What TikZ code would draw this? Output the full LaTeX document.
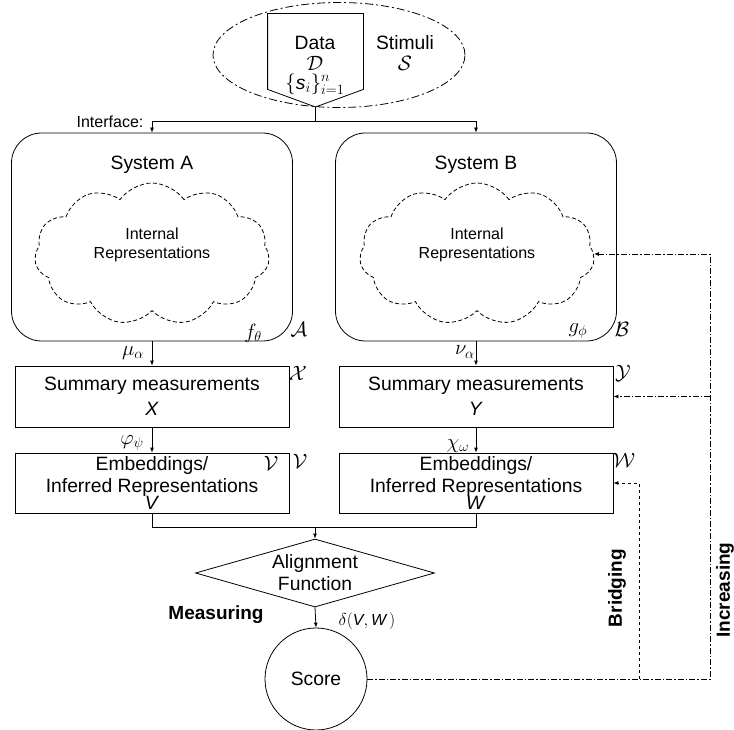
\documentclass[tikz,border=0pt]{standalone}
\usepackage{fontspec}
\setmainfont{Liberation Sans}
\usetikzlibrary{shapes.geometric,shapes.symbols,arrows.meta}

\begin{document}
\begin{tikzpicture}
  [x=1pt,y=-1pt,line width=0.8pt,
   font=\fontsize{19.3}{22}\selectfont,
   box/.style={draw,rectangle,minimum width=274pt,minimum height=61pt,align=center,inner sep=0pt},
   sysbox/.style={draw,rectangle,rounded corners=30pt,minimum width=281pt,minimum height=208pt},
   cloudy/.style={draw,dash pattern=on 4pt off 2.5pt,cloud,cloud puffs=11,cloud puff arc=110,aspect=1.65,minimum width=235pt,minimum height=142pt},
   lab/.style={font=\fontsize{16}{19}\selectfont},
   heavy/.style={font=\fontsize{19}{22}\selectfont\bfseries},
   arr/.style={-{Latex[length=5pt,width=4pt]}},
   dashdot/.style={dash pattern=on 6pt off 2pt on 1.5pt off 2pt}]
  \useasboundingbox (0,0) rectangle (734,730);

  % stimuli
  \node[draw,ellipse,dash pattern=on 8pt off 3pt on 2pt off 3pt,minimum width=252pt,minimum height=105pt] (stim) at (339,55) {};
  \node[minimum width=95pt,minimum height=75pt,inner sep=0pt] (data) at (315.5,51.5) {};
  \coordinate (datatip) at (315.5,107);
  \draw[fill=white] (data.north west) -- (data.north east) -- (data.south east) -- (datatip) -- (data.south west) -- cycle;
  \node (datatxt) at (315,43) {Data};
  \node (dcal) at (315,63) {$\mathcal{D}$};
  \node (sset) at (315,84) {$\{\mbox{\itshape s}_i\}_{i=1}^{n}$};
  \node (stimtxt) at (405,43) {Stimuli};
  \node (scal) at (405,63) {$\mathcal{S}$};

  % systems
  \node[sysbox] (sysA) at (152,237) {};
  \node[sysbox] (sysB) at (476,237) {};
  \node (sysAtxt) at (152,165) {System A};
  \node (sysBtxt) at (476,165) {System B};
  \node[cloudy] (cloudA) at (152,254) {};
  \node[cloudy] (cloudB) at (477,254) {};
  \node[lab,align=center] (intA) at (152,245) {Internal\\Representations};
  \node[lab,align=center] (intB) at (477,245) {Internal\\Representations};
  \node (fA) at (253,333) {$f_{\theta}$};
  \node (calA) at (299,329) {$\mathcal{A}$};
  \node (gB) at (578,331) {$g_{\phi}$};
  \node (calB) at (622,329) {$\mathcal{B}$};

  \node[lab] (iface) at (110,122) {Interface:};
  \coordinate (split) at (315.5,121);
  \draw (datatip) -- (split);
  \draw[arr] (split) -| (sysA.north);
  \draw[arr] (split) -| (sysB.north);

  % measurements
  \node[box] (sumA) at (152,396.5) {Summary measurements\\[3pt]\textit{X}};
  \node[box] (sumB) at (476,396.5) {Summary measurements\\[3pt]\textit{Y}};
  \node (calX) at (298,373) {$\mathcal{X}$};
  \node (calY) at (623,373) {$\mathcal{Y}$};
  \draw[arr] (sysA.south) -- (sumA.north);
  \draw[arr] (sysB.south) -- (sumB.north);
  \node (muA) at (133,353) {$\mu_{\alpha}$};
  \node (nuB) at (465,352) {$\nu_{\alpha}$};

  % embeddings
  \node[box,minimum height=60pt] (embA) at (152,483) {Embeddings/\\Inferred Representations\\[-5pt]\textit{V}};
  \node[box,minimum height=60pt] (embB) at (476,483) {Embeddings/\\Inferred Representations\\[-5pt]\textit{W}};
  \node (calVin) at (271,463) {$\mathcal{V}$};
  \node (calV) at (300,461) {$\mathcal{V}$};
  \node (calW) at (624,460) {$\mathcal{W}$};
  \draw[arr] (sumA.south) -- (embA.north);
  \draw[arr] (sumB.south) -- (embB.north);
  \node (phiA) at (132,443) {$\varphi_{\psi}$};
  \node (chiB) at (458,446) {$\chi_{\omega}$};

  % alignment
  \coordinate (merge) at (315,527);
  \draw (embA.south) -- (embA.south |- merge) -- (embB.south |- merge) -- (embB.south);
  \node[draw,diamond,aspect=3.5,inner sep=0pt,minimum width=239pt,minimum height=68pt,align=center] (align) at (315,573) {Alignment\\Function};
  \draw[arr] (merge) -- (align.north);
  \node[draw,circle,minimum size=102pt,inner sep=0pt] (score) at (316,679) {Score};
  \draw[arr] (align.south) -- (score.north);
  \node[heavy] (meas) at (216,615) {Measuring};
  \node[lab] (delta) at (367,621) {$\delta(\mbox{\itshape V},\mbox{\itshape W}\,)$};

  % feedback
  \coordinate (brid) at (639,679);
  \coordinate (incr) at (710,679);
  \draw[dashdot,arr] (score.east) -| (incr |- cloudB.east) -- (cloudB.east);
  \draw[dashdot,arr] (incr |- sumB.east) -- (sumB.east);
  \draw[dashed,arr] (brid) |- (embB.east);
  \node[heavy,rotate=90] (bridtxt) at (617,588) {Bridging};
  \node[heavy,rotate=90] (incrtxt) at (725,590) {Increasing};
\end{tikzpicture}
\end{document}
